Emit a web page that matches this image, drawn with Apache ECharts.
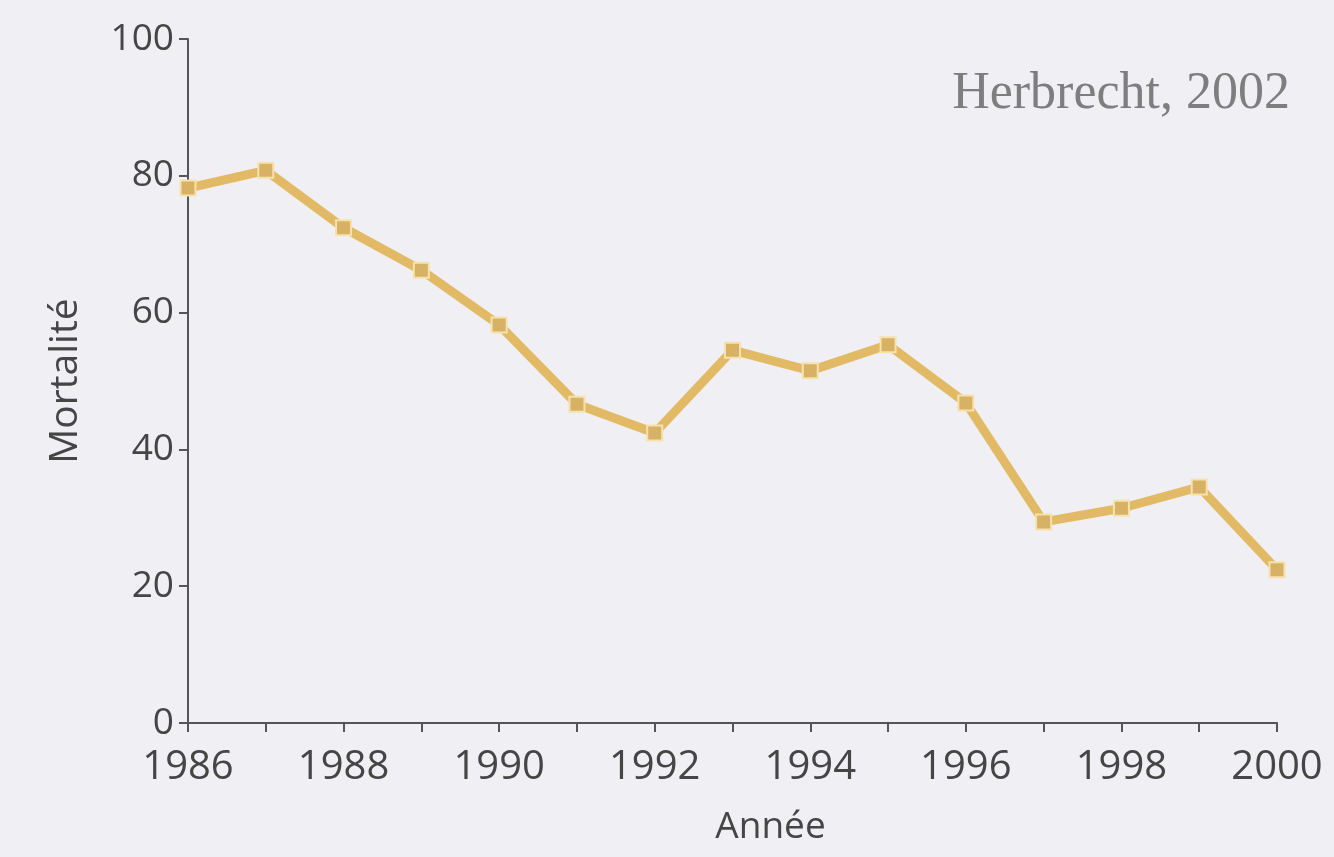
<!DOCTYPE html>
<html>
<head>
<meta charset="utf-8">
<script src="https://cdn.jsdelivr.net/npm/echarts@6/dist/echarts.min.js"></script>
<style>
  html, body { margin: 0; padding: 0; background: #efeff4; }
  #chart { width: 1334px; height: 857px; }
</style>
</head>
<body>
<div id="chart"></div>
<script>
// années et mortalité
const years = ['1986', '1987', '1988', '1989', '1990', '1991', '1992', '1993',
  '1994', '1995', '1996', '1997', '1998', '1999', '2000'];
const mortalite = [78.2, 80.8, 72.4, 66.2, 58.2, 46.6, 42.4, 54.5,
  51.5, 55.3, 46.8, 29.4, 31.4, 34.5, 22.4];
const yTicks = [0, 20, 40, 60, 80, 100];
const sourceLabel = 'Herbrecht, 2002';

const axisColor = '#555';
const textColor = '#454545';

const myChart = echarts.init(document.getElementById('chart'));

const option = {
  backgroundColor: '#efeff4',
  animation: false,
  grid: {
    left: 188,
    right: 57,
    top: 39,
    bottom: 134
  },
  xAxis: {
    type: 'category',
    data: years,
    boundaryGap: false,
    name: 'Année',
    nameLocation: 'middle',
    nameGap: 86,
    nameTextStyle: {
      fontFamily: 'Open Sans',
      fontSize: 37,
      color: textColor,
      padding: [0, 0, 0, 76]
    },
    axisLine: { lineStyle: { color: axisColor, width: 2 } },
    axisTick: { show: true, length: 9, interval: 0, lineStyle: { color: axisColor, width: 2 } },
    axisLabel: {
      interval: 1,
      margin: 25,
      fontFamily: 'Open Sans',
      fontSize: 40,
      color: textColor
    },
    splitLine: { show: false }
  },
  yAxis: {
    type: 'value',
    min: yTicks[0],
    max: yTicks[yTicks.length - 1],
    interval: 20,
    name: 'Mortalité',
    nameLocation: 'middle',
    nameGap: 103,
    nameTextStyle: {
      fontFamily: 'Open Sans',
      fontSize: 39,
      color: textColor
    },
    axisLine: { show: true, lineStyle: { color: axisColor, width: 2 } },
    axisTick: { show: true, length: 9, lineStyle: { color: axisColor, width: 2 } },
    axisLabel: {
      margin: 14,
      fontFamily: 'Open Sans',
      fontSize: 37,
      color: textColor
    },
    splitLine: { show: false }
  },
  graphic: [
    {
      type: 'text',
      right: 44,
      top: 68,
      style: {
        text: sourceLabel,
        fontFamily: 'Liberation Serif',
        fontSize: 52,
        fill: '#7e7e7e'
      }
    }
  ],
  series: [
    {
      type: 'line',
      data: mortalite,
      symbol: 'rect',
      symbolSize: 15,
      lineStyle: { color: '#e2b965', width: 9 },
      itemStyle: {
        color: '#d8b264',
        borderColor: '#f6e2ae',
        borderWidth: 2
      }
    }
  ]
};

myChart.setOption(option);
</script>
</body>
</html>
